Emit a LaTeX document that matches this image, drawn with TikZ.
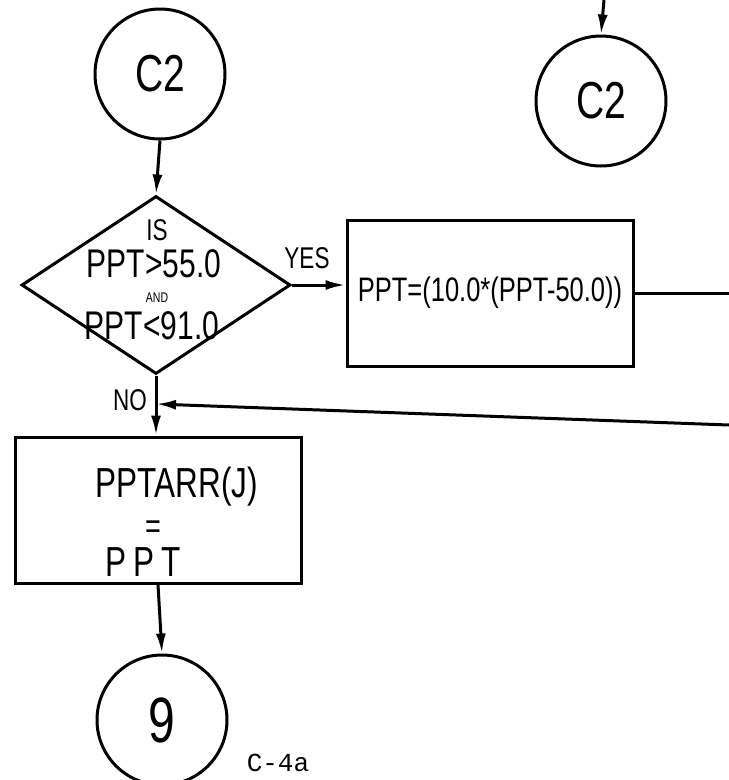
\documentclass[tikz,border=0pt]{standalone}
\usepackage{fontspec}
\usetikzlibrary{arrows.meta,positioning,shapes.geometric}
\newfontfamily\handfont[FakeStretch=0.75]{Liberation Sans}
\newfontfamily\typefont{Liberation Mono}
\tikzset{
  connector/.style={draw, circle, line width=3pt, minimum size=130pt, inner sep=0pt, font=\handfont\fontsize{52}{56}\selectfont},
  decision/.style={draw, diamond, line width=3pt, minimum width=269pt, minimum height=178pt, inner sep=0pt},
  process/.style={draw, rectangle, line width=3pt, minimum width=286pt, minimum height=146pt, inner sep=0pt, align=center},
  hand/.style={font=\handfont\fontsize{42}{46}\selectfont, inner sep=0pt},
  smallhand/.style={font=\handfont\fontsize{30}{34}\selectfont, inner sep=0pt},
  tinyhand/.style={font=\handfont\fontsize{14}{16}\selectfont, inner sep=0pt},
  arrow/.style={-{Latex[length=20pt,width=10pt]}, line width=3pt},
  flow/.style={line width=3pt},
  pagenote/.style={font=\typefont\fontsize{26}{28}\selectfont, inner sep=0pt}
}

\begin{document}
\begin{tikzpicture}[x=1pt,y=-1pt]
  \useasboundingbox (0,0) rectangle (729,780);

  % Entry and exit connectors
  \node[connector] (start) at (160,74) {C2};
  \node[connector] (cont) at (601,101) {C2};
  \node[connector, font=\handfont\fontsize{64}{68}\selectfont] (end9) at (162,720) {9};

  % Range test
  \node[decision] (test) at (156,285) {};
  \node[smallhand] (isq) at (157,230) {IS};
  \node[hand, font=\handfont\fontsize{40}{44}\selectfont] (lowq) at (154,264) {PPT>55.0};
  \node[tinyhand] (andq) at (157,298) {AND};
  \node[hand, font=\handfont\fontsize{40}{44}\selectfont] (highq) at (152,326) {PPT<91.0};

  % Process boxes
  \node[process, font=\handfont\fontsize{34}{38}\selectfont] (scale) at (490,293) {PPT=(10.0*(PPT-50.0))};
  \node[process] (store) at (158,510) {};
  \node[hand] (arrq) at (177,487) {PPTARR(J)};
  \node[hand, font=\handfont\fontsize{36}{40}\selectfont] (eqq) at (153,530) {=};
  \node[hand] (pptq) at (143,562) {P\,P\,T};

  % Branch labels
  \node[smallhand] (yes) at (307,258) {YES};
  \node[smallhand] (no) at (130,400) {NO};

  % Loose ends at the page edge
  \coordinate (fromTop) at (604,0);
  \coordinate (exitR) at (729,293);
  \coordinate (backR) at (729,425);
  \coordinate (join) at (156,404);

  % Flow lines
  \draw[arrow] (start.south) -- (test.north);
  \draw[arrow] (test.east) -- (test.east -| scale.west);
  \draw[flow] (scale.east) -- (exitR);
  \draw[arrow] (backR) -- (join);
  \draw[arrow] (test.south) -- (test.south |- store.north);
  \draw[arrow] (store.south) -- (end9.north);
  \draw[arrow] (fromTop) -- (cont.north);

  \node[pagenote] (page) at (278,763) {C-4a};
\end{tikzpicture}
\end{document}
